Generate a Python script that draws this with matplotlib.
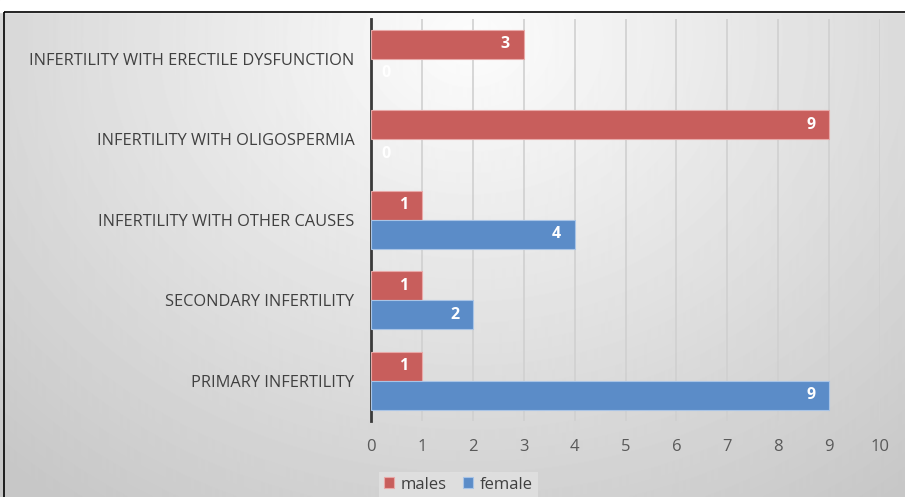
import numpy as np
import matplotlib.pyplot as plt
from matplotlib.patches import Rectangle

categories = ["PRIMARY INFERTILITY", "SECONDARY INFERTILITY",
              "INFERTILITY WITH OTHER CAUSES", "INFERTILITY WITH OLIGOSPERMIA",
              "INFERTILITY WITH ERECTILE DYSFUNCTION"]
males = [1, 1, 1, 9, 3]
female = [9, 2, 4, 0, 0]
x_ticks = list(range(0, 11))

plt.rcParams['font.family'] = ['Open Sans', 'DejaVu Sans']

fig = plt.figure(figsize=(9.05, 4.97), dpi=100)

# radial grey backdrop
bg = fig.add_axes([0, 0, 1, 1], zorder=-10)
yy, xx = np.mgrid[0:497, 0:905]
r = np.sqrt(((xx - 470) / 620.0) ** 2 + ((yy - 40) / 520.0) ** 2)
shade = np.clip(0.99 - 0.19 * r, 0.78, 0.99)
bg.imshow(shade, cmap='gray', vmin=0, vmax=1, extent=[0, 905, 497, 0], aspect='auto')
bg.add_patch(Rectangle((0, 0), 905, 12, color='white', zorder=2))
bg.add_patch(Rectangle((4, 12), 905, 497, fill=False, edgecolor='black', lw=1.2, zorder=3))
bg.set_xlim(0, 905)
bg.set_ylim(497, 0)
bg.axis('off')

ax = fig.add_axes([371 / 905, 1 - 421 / 497, (880 - 371) / 905, (421 - 18.5) / 497])
ax.patch.set_alpha(0)

y = np.arange(len(categories))
h = 0.36
red = '#c85e5c'
blue = '#5b8cc8'
rb = ax.barh(y + h / 2, males, height=h, color=red, edgecolor='#e8a9a8', lw=0.8, zorder=3)
bb = ax.barh(y - h / 2, female, height=h, color=blue, edgecolor='#a9c4e6', lw=0.8, zorder=3)

for bars, vals in ((rb, males), (bb, female)):
    for b, v in zip(bars, vals):
        if v == 0:
            b.set_linewidth(0)
        cy = b.get_y() + b.get_height() / 2
        xpos = v - 0.36 if v > 0 else 0.3
        ax.text(xpos, cy, str(v), ha='center', va='center', color='white',
                fontsize=11.5, fontweight='bold', zorder=4)

ax.set_xlim(0, 10)
ax.set_ylim(-0.5, 4.5)
ax.set_xticks(x_ticks)
ax.set_yticks(y)
ax.set_yticklabels(categories, fontsize=11.8, color='#404040')
ax.tick_params(axis='x', colors='#595959', labelsize=12, length=0, pad=13)
ax.tick_params(axis='y', length=0, pad=12)
ax.grid(axis='x', color='#d0d0d0', lw=1.2, zorder=0)
for s in ('top', 'right', 'bottom'):
    ax.spines[s].set_visible(False)
ax.spines['left'].set_color('#3a3a3a')
ax.spines['left'].set_linewidth(2)

leg = fig.legend(handles=[rb, bb], labels=['males', 'female'], loc='lower center',
                 bbox_to_anchor=(0.5064, -0.018), ncol=2, frameon=True, fontsize=12,
                 handlelength=0.6, handleheight=0.6, handletextpad=0.4, columnspacing=1.0,
                 borderpad=0.3, fancybox=False)
leg.get_frame().set_facecolor('#e2e2e2')
leg.get_frame().set_edgecolor('none')
for t in leg.get_texts():
    t.set_color('#404040')

fig.savefig('out.png', dpi=100)
